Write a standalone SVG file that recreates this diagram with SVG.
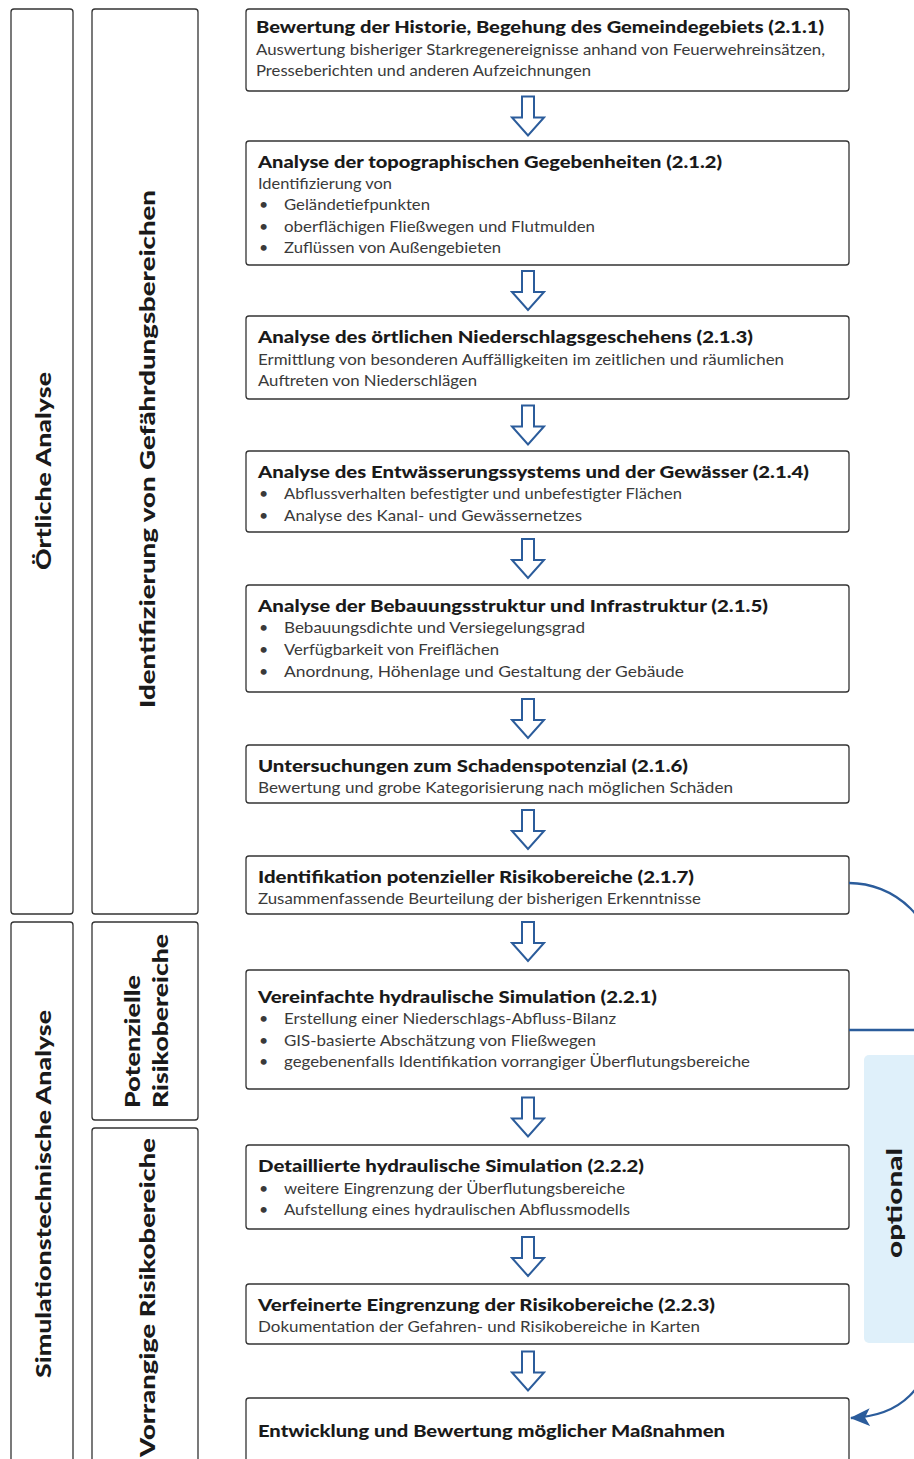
<svg xmlns="http://www.w3.org/2000/svg" xmlns:xlink="http://www.w3.org/1999/xlink" width="914" height="1459" viewBox="0 0 914 1459">
<style>
.bg{fill:#ffffff}
.box{fill:#ffffff;stroke:#333333;stroke-width:1.3}
.col{fill:#ffffff;stroke:#333333;stroke-width:1.3}
.t{font-family:Lato,"Liberation Sans",sans-serif;font-weight:900;font-size:16px;fill:#1a1a1a}
.b{font-family:Lato,"Liberation Sans",sans-serif;font-size:16px;fill:#3a3a3a}
.v{font-family:Lato,"Liberation Sans",sans-serif;font-weight:900;font-size:21px;fill:#1a1a1a}
.arr{fill:#ffffff;stroke:#2b5c9b;stroke-width:2;stroke-linejoin:miter}
.con{fill:none;stroke:#2b5c9b;stroke-width:2.3}
.opt{fill:#dff0fa}
</style>
<defs>
<path id="down" d="M -6,0 H 6 V 21 H 16 L 0 39 L -16 21 H -6 Z"/>
<marker id="ah2" markerWidth="20" markerHeight="18" refX="19" refY="9" orient="auto" markerUnits="userSpaceOnUse" viewBox="0 0 20 18">
<path d="M0,0 L20,9 L0,18 L5,9 Z" fill="#2b5c9b"/>
</marker>
</defs>
<rect class="bg" x="0" y="0" width="914" height="1459"/>

<g id="optional">
<rect class="opt" x="864" y="1055" width="70" height="288" rx="5"/>
<text class="v" transform="translate(902,1258) rotate(-90)" x="0" y="0" textLength="110" lengthAdjust="spacingAndGlyphs">optional</text>
</g>

<g id="col-oertliche">
<rect class="col" x="11" y="9" width="62" height="905" rx="3"/>
<text class="v" transform="translate(51,570) rotate(-90)" textLength="198" lengthAdjust="spacingAndGlyphs">Örtliche Analyse</text>
</g>
<g id="col-simulation">
<rect class="col" x="11" y="922" width="62" height="560" rx="3"/>
<text class="v" transform="translate(51,1378) rotate(-90)" textLength="368" lengthAdjust="spacingAndGlyphs">Simulationstechnische Analyse</text>
</g>
<g id="col-identifizierung">
<rect class="col" x="92" y="9" width="106" height="905" rx="3"/>
<text class="v" transform="translate(155,708) rotate(-90)" textLength="518" lengthAdjust="spacingAndGlyphs">Identifizierung von Gefährdungsbereichen</text>
</g>
<g id="col-potenzielle">
<rect class="col" x="92" y="922" width="106" height="198" rx="3"/>
<text class="v" transform="translate(140,1108) rotate(-90)" textLength="133" lengthAdjust="spacingAndGlyphs">Potenzielle</text>
<text class="v" transform="translate(168,1108) rotate(-90)" textLength="174" lengthAdjust="spacingAndGlyphs">Risikobereiche</text>
</g>
<g id="col-vorrangige">
<rect class="col" x="92" y="1128" width="106" height="360" rx="3"/>
<text class="v" transform="translate(155,1457) rotate(-90)" textLength="319" lengthAdjust="spacingAndGlyphs">Vorrangige Risikobereiche</text>
</g>

<g id="n211">
<rect class="box" x="246" y="9" width="603" height="82" rx="3"/>
<text class="t" x="256" y="33" textLength="568" lengthAdjust="spacingAndGlyphs">Bewertung der Historie, Begehung des Gemeindegebiets (2.1.1)</text>
<text class="b" x="256" y="55" textLength="569" lengthAdjust="spacingAndGlyphs">Auswertung bisheriger Starkregenereignisse anhand von Feuerwehreinsätzen,</text>
<text class="b" x="256" y="76" textLength="335" lengthAdjust="spacingAndGlyphs">Presseberichten und anderen Aufzeichnungen</text>
</g>
<g id="n212">
<rect class="box" x="246" y="141" width="603" height="124" rx="3"/>
<text class="t" x="258" y="168" textLength="464" lengthAdjust="spacingAndGlyphs">Analyse der topographischen Gegebenheiten (2.1.2)</text>
<text class="b" x="258" y="189" textLength="134" lengthAdjust="spacingAndGlyphs">Identifizierung von</text>
<text class="b" x="259" y="210">•</text><text class="b" x="284" y="210" textLength="146" lengthAdjust="spacingAndGlyphs">Geländetiefpunkten</text>
<text class="b" x="259" y="232">•</text><text class="b" x="284" y="232" textLength="311" lengthAdjust="spacingAndGlyphs">oberflächigen Fließwegen und Flutmulden</text>
<text class="b" x="259" y="253">•</text><text class="b" x="284" y="253" textLength="217" lengthAdjust="spacingAndGlyphs">Zuflüssen von Außengebieten</text>
</g>
<g id="n213">
<rect class="box" x="246" y="316" width="603" height="83" rx="3"/>
<text class="t" x="258" y="343" textLength="495" lengthAdjust="spacingAndGlyphs">Analyse des örtlichen Niederschlagsgeschehens (2.1.3)</text>
<text class="b" x="258" y="365" textLength="526" lengthAdjust="spacingAndGlyphs">Ermittlung von besonderen Auffälligkeiten im zeitlichen und räumlichen</text>
<text class="b" x="258" y="386" textLength="219" lengthAdjust="spacingAndGlyphs">Auftreten von Niederschlägen</text>
</g>
<g id="n214">
<rect class="box" x="246" y="451" width="603" height="81" rx="3"/>
<text class="t" x="258" y="478" textLength="551" lengthAdjust="spacingAndGlyphs">Analyse des Entwässerungssystems und der Gewässer (2.1.4)</text>
<text class="b" x="259" y="499">•</text><text class="b" x="284" y="499" textLength="398" lengthAdjust="spacingAndGlyphs">Abflussverhalten befestigter und unbefestigter Flächen</text>
<text class="b" x="259" y="521">•</text><text class="b" x="284" y="521" textLength="298" lengthAdjust="spacingAndGlyphs">Analyse des Kanal- und Gewässernetzes</text>
</g>
<g id="n215">
<rect class="box" x="246" y="585" width="603" height="107" rx="3"/>
<text class="t" x="258" y="612" textLength="510" lengthAdjust="spacingAndGlyphs">Analyse der Bebauungsstruktur und Infrastruktur (2.1.5)</text>
<text class="b" x="259" y="633">•</text><text class="b" x="284" y="633" textLength="301" lengthAdjust="spacingAndGlyphs">Bebauungsdichte und Versiegelungsgrad</text>
<text class="b" x="259" y="655">•</text><text class="b" x="284" y="655" textLength="215" lengthAdjust="spacingAndGlyphs">Verfügbarkeit von Freiflächen</text>
<text class="b" x="259" y="677">•</text><text class="b" x="284" y="677" textLength="400" lengthAdjust="spacingAndGlyphs">Anordnung, Höhenlage und Gestaltung der Gebäude</text>
</g>
<g id="n216">
<rect class="box" x="246" y="745" width="603" height="58" rx="3"/>
<text class="t" x="258" y="772" textLength="430" lengthAdjust="spacingAndGlyphs">Untersuchungen zum Schadenspotenzial (2.1.6)</text>
<text class="b" x="258" y="793" textLength="475" lengthAdjust="spacingAndGlyphs">Bewertung und grobe Kategorisierung nach möglichen Schäden</text>
</g>
<g id="n217">
<rect class="box" x="246" y="856" width="603" height="58" rx="3"/>
<text class="t" x="258" y="883" textLength="436" lengthAdjust="spacingAndGlyphs">Identifikation potenzieller Risikobereiche (2.1.7)</text>
<text class="b" x="258" y="904" textLength="443" lengthAdjust="spacingAndGlyphs">Zusammenfassende Beurteilung der bisherigen Erkenntnisse</text>
</g>
<g id="n221">
<rect class="box" x="246" y="970" width="603" height="119" rx="3"/>
<text class="t" x="258" y="1003" textLength="399" lengthAdjust="spacingAndGlyphs">Vereinfachte hydraulische Simulation (2.2.1)</text>
<text class="b" x="259" y="1024">•</text><text class="b" x="284" y="1024" textLength="332" lengthAdjust="spacingAndGlyphs">Erstellung einer Niederschlags-Abfluss-Bilanz</text>
<text class="b" x="259" y="1046">•</text><text class="b" x="284" y="1046" textLength="312" lengthAdjust="spacingAndGlyphs">GIS-basierte Abschätzung von Fließwegen</text>
<text class="b" x="259" y="1067">•</text><text class="b" x="284" y="1067" textLength="466" lengthAdjust="spacingAndGlyphs">gegebenenfalls Identifikation vorrangiger Überflutungsbereiche</text>
</g>
<g id="n222">
<rect class="box" x="246" y="1145" width="603" height="84" rx="3"/>
<text class="t" x="258" y="1172" textLength="386" lengthAdjust="spacingAndGlyphs">Detaillierte hydraulische Simulation (2.2.2)</text>
<text class="b" x="259" y="1194">•</text><text class="b" x="284" y="1194" textLength="341" lengthAdjust="spacingAndGlyphs">weitere Eingrenzung der Überflutungsbereiche</text>
<text class="b" x="259" y="1215">•</text><text class="b" x="284" y="1215" textLength="346" lengthAdjust="spacingAndGlyphs">Aufstellung eines hydraulischen Abflussmodells</text>
</g>
<g id="n223">
<rect class="box" x="246" y="1284" width="603" height="60" rx="3"/>
<text class="t" x="258" y="1311" textLength="457" lengthAdjust="spacingAndGlyphs">Verfeinerte Eingrenzung der Risikobereiche (2.2.3)</text>
<text class="b" x="258" y="1332" textLength="442" lengthAdjust="spacingAndGlyphs">Dokumentation der Gefahren- und Risikobereiche in Karten</text>
</g>
<g id="n23">
<rect class="box" x="246" y="1398" width="603" height="90" rx="3"/>
<text class="t" x="258" y="1437" textLength="467" lengthAdjust="spacingAndGlyphs">Entwicklung und Bewertung möglicher Maßnahmen</text>
</g>

<g id="connectors">
<use xlink:href="#down" href="#down" class="arr" transform="translate(528,96.5)"/>
<use xlink:href="#down" href="#down" class="arr" transform="translate(528,271)"/>
<use xlink:href="#down" href="#down" class="arr" transform="translate(528,405.5)"/>
<use xlink:href="#down" href="#down" class="arr" transform="translate(528,539)"/>
<use xlink:href="#down" href="#down" class="arr" transform="translate(528,699)"/>
<use xlink:href="#down" href="#down" class="arr" transform="translate(528,810)"/>
<use xlink:href="#down" href="#down" class="arr" transform="translate(528,922)"/>
<use xlink:href="#down" href="#down" class="arr" transform="translate(528,1097.5)"/>
<use xlink:href="#down" href="#down" class="arr" transform="translate(528,1237)"/>
<use xlink:href="#down" href="#down" class="arr" transform="translate(528,1351.5)"/>
<path class="con" d="M849,883 A87,87 0 0 1 936,970 L936,1330"/>
<path class="con" d="M849,1030 L936,1030"/>
<path class="con" d="M936,1330 C930,1390 900,1416 851,1418" marker-end="url(#ah2)"/>
</g>
</svg>
